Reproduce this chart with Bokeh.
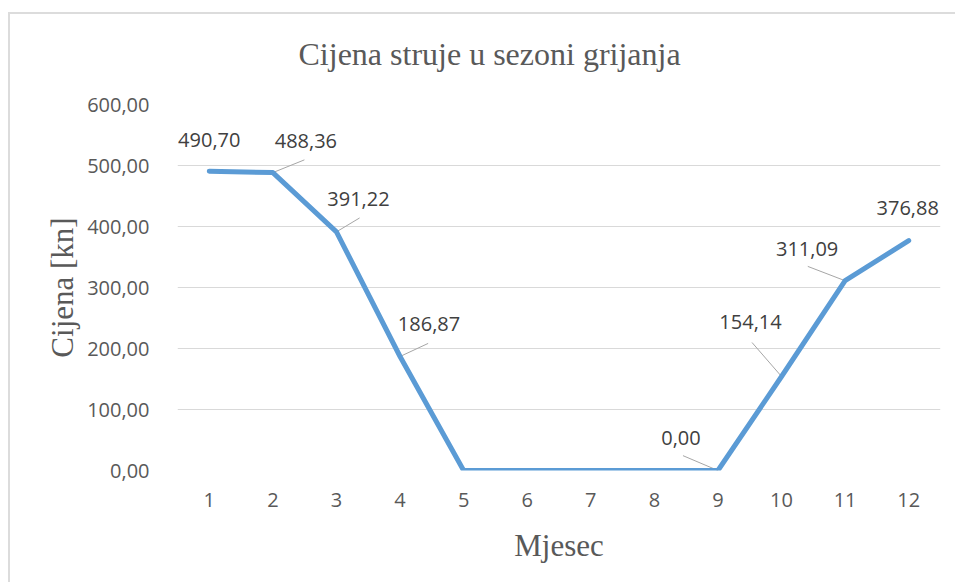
from bokeh.plotting import figure
from bokeh.models import ColumnDataSource, FixedTicker, Range1d
from bokeh.core.properties import value
from bokeh.embed import file_html
from bokeh.resources import INLINE

# ---- data ----
months = [1, 2, 3, 4, 5, 6, 7, 8, 9, 10, 11, 12]
prices = [490.70, 488.36, 391.22, 186.87, 0.0, 0.0, 0.0, 0.0, 0.0, 154.14, 311.09, 376.88]
x_tick_labels = ["1", "2", "3", "4", "5", "6", "7", "8", "9", "10", "11", "12"]
y_ticks = [0, 100, 200, 300, 400, 500, 600]
y_tick_labels = ["0,00", "100,00", "200,00", "300,00", "400,00", "500,00", "600,00"]

label_months = [1, 2, 3, 4, 9, 10, 11, 12]
label_texts = ["490,70", "488,36", "391,22", "186,87", "0,00", "154,14", "311,09", "376,88"]

title_text = "Cijena struje u sezoni grijanja"
x_title = "Mjesec"
y_title = "Cijena [kn]"

# ---- style (pixel offsets of data labels and leader lines) ----
label_dx = [0, 33, 22, 29, -37, -31, -38, -1]
label_dy = [-31, -32, -33, -33, -33, -54, -32, -33]
leader_months = [2, 3, 4, 9, 10, 11]
leader_len = [34, 27, 31, 38, 45, 40]
leader_ang = [22, 31, 25, 157, 131, 159]

W, H = 955, 582
p = figure(width=W, height=H, output_backend="svg", toolbar_location=None,
           x_range=Range1d(0.5, 12.5), y_range=Range1d(0, 600),
           min_border_left=177, min_border_right=15, min_border_top=103,
           min_border_bottom=112)
# light chart-area border (top and left) painted behind a transparent canvas
p.styles = {"background": "linear-gradient(#dcdcdc, #dcdcdc) 8px 12px / 2px 100% no-repeat, "
                          "linear-gradient(#dcdcdc, #dcdcdc) 8px 12px / 100% 2px no-repeat, white"}
p.background_fill_alpha = 0
p.border_fill_alpha = 0
p.outline_line_color = None

p.title.text = title_text
p.title.text_font = "Liberation Serif"
p.title.text_font_size = "32px"
p.title.text_font_style = "normal"
p.title.text_color = "#595959"
p.title.align = "left"
p.title.offset = 121
p.title.standoff = 66

# axes
for ax in (p.xaxis[0], p.yaxis[0]):
    ax.axis_line_color = None
    ax.major_tick_line_color = None
    ax.minor_tick_line_color = None
    ax.major_label_text_font = "Open Sans"
    ax.major_label_text_font_size = "20px"
    ax.major_label_text_color = "#595959"
    ax.axis_label_text_font = "Liberation Serif"
    ax.axis_label_text_font_size = "31px"
    ax.axis_label_text_font_style = "normal"
    ax.axis_label_text_color = "#595959"

p.xaxis.ticker = FixedTicker(ticks=months)
p.xaxis.major_label_overrides = {m: t for m, t in zip(months, x_tick_labels)}
p.xaxis.major_label_standoff = 16
p.xaxis.axis_label = x_title
p.xaxis.axis_label_standoff = 18

p.yaxis.ticker = FixedTicker(ticks=y_ticks)
p.yaxis.major_label_overrides = {t: s for t, s in zip(y_ticks, y_tick_labels)}
p.yaxis.major_label_standoff = 22
p.yaxis.axis_label = y_title
p.yaxis.axis_label_standoff = 4

p.xgrid.grid_line_color = None
p.ygrid.ticker = FixedTicker(ticks=y_ticks)
p.ygrid.grid_line_color = "#d9d9d9"
p.ygrid.grid_line_width = 1

# leader lines
lead_src = ColumnDataSource(dict(
    x=leader_months,
    y=[prices[months.index(m)] for m in leader_months],
    length=leader_len,
    angle=leader_ang,
))
p.ray(x="x", y="y", length="length", angle="angle", source=lead_src,
      length_units="screen", angle_units="deg", line_color="#a6a6a6", line_width=1)

# main line
p.line(months, prices, line_width=5, line_color="#5b9bd5",
       line_cap="round", line_join="round")

# data labels
lab_src = ColumnDataSource(dict(
    x=label_months,
    y=[prices[months.index(m)] for m in label_months],
    text=label_texts,
    dx=label_dx,
    dy=label_dy,
))
p.text(x="x", y="y", text="text", x_offset="dx", y_offset="dy", source=lab_src,
       text_font=value("Open Sans"), text_font_size="20px", text_color="#404040",
       text_align="center", text_baseline="middle")

open("out.html", "w").write(file_html(p, INLINE))
